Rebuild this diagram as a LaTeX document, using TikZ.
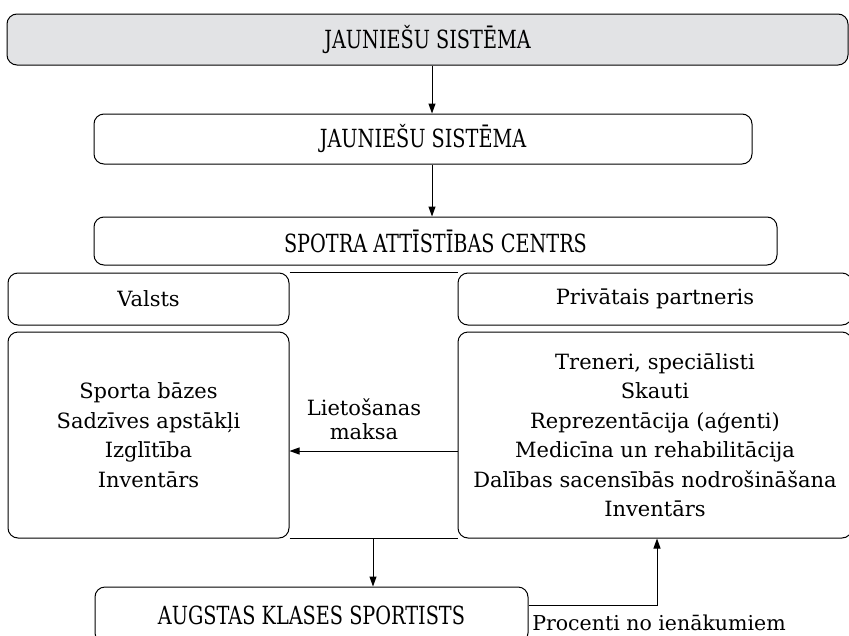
\documentclass[tikz,border=0pt]{standalone}
\usepackage{fontspec}
\setmainfont{DejaVu Serif}
\newfontfamily\capsfont[FakeStretch=0.77]{DejaVu Serif}
\usetikzlibrary{arrows.meta}
\definecolor{topgray}{RGB}{226,227,229}
\begin{document}
\begin{tikzpicture}[x=1pt,y=-1pt,
  box/.style={draw, rounded corners=10pt, line width=1pt, inner sep=0pt, align=center,
    font=\fontsize{21}{29.5}\selectfont},
  capsbox/.style={box, font=\capsfont\fontsize{25}{28}\selectfont},
  lbl/.style={inner sep=0pt, align=center, font=\fontsize{21}{24}\selectfont},
  conn/.style={line width=1pt},
  arr/.style={conn, -{Triangle[length=10pt,width=7pt]}}]
\useasboundingbox (0,0) rectangle (849,635);
% boxes
\node[capsbox, fill=topgray, minimum width=841pt, minimum height=51pt] (top) at (427.5,39.5) {JAUNIEŠU SISTĒMA};
\node[capsbox, minimum width=658pt, minimum height=50pt] (js) at (423,139) {JAUNIEŠU SISTĒMA};
\node[capsbox, minimum width=683pt, minimum height=48pt] (spc) at (435.5,241) {SPOTRA ATTĪSTĪBAS CENTRS};
\node[box, minimum width=281pt, minimum height=52pt] (valsts) at (148.5,299) {Valsts};
\node[box, minimum width=394pt, minimum height=52pt] (priv) at (655,299) {Privātais partneris};
\node[box, minimum width=281pt, minimum height=206pt] (lb) at (148.5,435) {Sporta bāzes\\Sadzīves apstākļi\\Izglītība\\Inventārs};
\node[box, minimum width=394pt, minimum height=206pt] (rb) at (655,435) {Treneri, speciālisti\\Skauti\\Reprezentācija (aģenti)\\Medicīna un rehabilitācija\\Dalības sacensībās nodrošināšana\\Inventārs};
\node[capsbox, minimum width=433pt, minimum height=56pt] (sp) at (311.5,615) {AUGSTAS KLASES SPORTISTS};
% helper coordinates
\coordinate (vx) at (432,0);
\coordinate (my) at (0,451);
\coordinate (ax) at (373,0);
\coordinate (c1) at (657,605);
% connectors
\draw[arr] (vx |- top.south) -- (vx |- js.north);
\draw[arr] (vx |- js.south) -- (vx |- spc.north);
\draw[conn] (valsts.north east) -- (priv.north west);
\draw[conn] (lb.south east) -- (rb.south west);
\draw[arr] (rb.west |- my) -- (lb.east |- my);
\draw[arr] (ax |- lb.south) -- (ax |- sp.north);
\draw[arr] (sp.east |- c1) -| (rb.south -| c1);
% labels
\node[lbl] (lm) at (364,419) {Lietošanas\\maksa};
\node[lbl, anchor=base, font=\fontsize{20.5}{24}\selectfont] (pr) at (659,630) {Procenti no ienākumiem};
\end{tikzpicture}
\end{document}
